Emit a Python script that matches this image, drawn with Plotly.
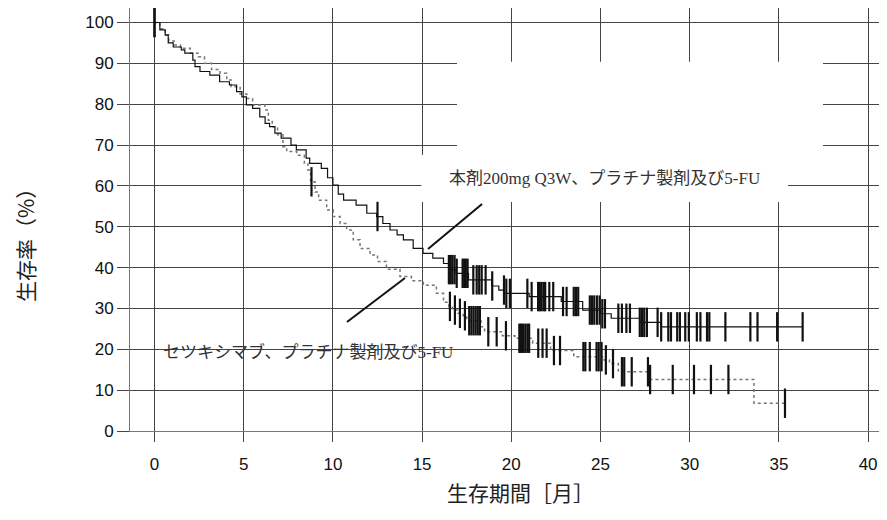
import numpy as np
import plotly.graph_objects as go

# ---------------- data ----------------
# 本剤200mg Q3W + platinum + 5-FU (solid)
pem_times = [0, 0.3, 0.6, 0.77, 1.05, 1.5, 1.7, 2.15, 2.27, 2.55, 3.1, 3.65, 4.2, 4.6, 4.9,
             5.15, 5.5, 5.9, 6.2, 6.45, 6.75, 7.1, 7.65, 7.95, 8.5, 8.7, 9.35, 9.7, 10.0,
             10.3, 10.6, 11.3, 11.9, 12.45, 12.8, 13.2, 13.6, 13.95, 14.5, 15.05, 15.6,
             16.2, 16.5, 16.9, 17.6, 18.9, 19.3, 19.6, 21.0, 22.8, 24.0, 25.0, 25.6, 27.2, 28.4]
pem_surv = [100, 98.2, 96.9, 95.0, 94.0, 93.3, 92.5, 90.8, 89.2, 88.0, 87.1, 85.5, 84.7, 83.1, 81.8,
            79.8, 79.0, 76.9, 75.3, 74.5, 72.9, 71.7, 70.0, 68.8, 66.8, 65.5, 64.3, 62.0, 60.2,
            58.0, 56.5, 55.3, 53.3, 52.5, 50.8, 49.2, 48.0, 46.8, 44.7, 43.5, 42.3,
            41.0, 39.5, 38.6, 37.0, 35.5, 34.5, 33.7, 32.9, 31.7, 29.6, 28.7, 27.6, 26.6, 25.5]
pem_end = 36.33
pem_censor = [0, 12.5, 16.5, 16.6, 16.7, 16.82, 16.94, 17.27, 17.36, 17.45, 17.55,
              17.87, 18.06, 18.2, 18.34, 18.56, 18.93, 19.59, 19.72, 19.92, 20.9, 21.14,
              21.5, 21.6, 21.7, 21.82, 21.9, 22.13, 22.35, 22.9, 23.1, 23.5, 23.62, 23.75,
              24.4, 24.52, 24.65, 24.8, 24.95, 25.1, 25.25, 26.0, 26.2, 26.45, 26.65, 27.2, 27.32,
              27.45, 27.6, 28.2, 28.4, 28.8, 28.95, 29.3, 29.45, 29.75, 29.95, 30.4,
              30.6, 30.97, 31.1, 32.0, 33.4, 33.8, 34.9, 36.33]

# セツキシマブ + platinum + 5-FU (dotted)
cet_times = [0, 0.3, 0.6, 0.8, 1.1, 1.45, 2.0, 2.45, 2.8, 3.2, 3.67, 4.05, 4.3, 4.8, 5.17, 5.5,
             6.19, 6.38, 6.6, 6.9, 7.2, 7.41, 7.97, 8.4, 8.6, 8.75, 9.0, 9.2, 9.65, 10.02, 10.4,
             10.77, 11.14, 11.52, 12.08, 12.5, 13.0, 13.76, 14.4, 15.07, 15.8, 16.2, 16.5, 16.7,
             17.0, 17.3, 17.5, 18.3, 18.5, 19.5, 20.2, 21.2, 22.2, 23.5, 25.2, 25.5, 26.0,
             27.75, 33.6]
cet_surv = [100, 98.5, 97.0, 95.5, 94.5, 93.7, 92.5, 91.6, 90.0, 88.5, 87.6, 85.9, 84.3, 82.5, 81.4, 79.8,
            78.6, 76.1, 74.5, 72.5, 69.6, 68.4, 67.5, 65.5, 63.9, 61.0, 58.5, 56.5, 54.1, 52.5, 50.8,
            49.2, 46.8, 44.7, 43.1, 41.5, 39.6, 37.8, 36.8, 35.7, 33.7, 31.5, 30.5, 29.6,
            28.8, 28.2, 27.0, 25.5, 24.3, 23.3, 22.7, 21.5, 19.7, 18.2, 17.4, 16.5, 14.5,
            12.6, 6.8]
cet_end = 35.34
cet_censor = [0, 8.8, 16.56, 16.84, 17.12, 17.4, 17.64, 17.76, 17.88, 18.0, 18.12, 18.24,
              18.71, 19.18, 19.7, 20.45, 20.55, 20.65, 20.78, 20.9, 21.0, 21.51,
              21.75, 21.98, 22.39, 22.73, 24.04, 24.15, 24.4, 24.78, 24.9, 25.06, 25.3, 25.7,
              26.2, 26.33, 26.75, 27.66, 27.78, 29.05, 30.24, 31.19, 32.17, 35.34]

x_ticks = [0, 5, 10, 15, 20, 25, 30, 35, 40]
y_ticks = [0, 10, 20, 30, 40, 50, 60, 70, 80, 90, 100]

label_pem = "本剤200mg Q3W、プラチナ製剤及び5-FU"
label_cet = "セツキシマブ、プラチナ製剤及び5-FU"
x_title = "生存期間［月］"
y_title = "生存率（%）"


def surv_at(times, survs, t):
    idx = np.searchsorted(np.array(times), np.array(t), side="right") - 1
    return [survs[i] for i in idx]


fig = go.Figure()

# curves
fig.add_trace(go.Scatter(x=cet_times + [cet_end], y=cet_surv + [cet_surv[-1]],
                         mode="lines", line=dict(shape="hv", color="#777777", width=1.5, dash="dot"),
                         hoverinfo="skip"))
fig.add_trace(go.Scatter(x=pem_times + [pem_end], y=pem_surv + [pem_surv[-1]],
                         mode="lines", line=dict(shape="hv", color="#111111", width=1.2),
                         hoverinfo="skip"))
# censor marks
fig.add_trace(go.Scatter(x=cet_censor, y=surv_at(cet_times, cet_surv, cet_censor), mode="markers",
                         marker=dict(symbol="line-ns", size=21, line=dict(color="#111111", width=2.2)),
                         hoverinfo="skip"))
fig.add_trace(go.Scatter(x=pem_censor, y=surv_at(pem_times, pem_surv, pem_censor), mode="markers",
                         marker=dict(symbol="line-ns", size=21, line=dict(color="#111111", width=2.2)),
                         hoverinfo="skip"))

# white label backgrounds (hide grid behind label)
fig.add_shape(type="rect", xref="x", yref="y", x0=16.96, x1=37.47, y0=66.0, y1=90.4,
              fillcolor="white", line=dict(width=0), layer="above")
fig.add_shape(type="rect", xref="x", yref="y", x0=14.955, x1=35.51, y0=56.06, y1=67.56,
              fillcolor="white", line=dict(width=0), layer="above")
# leader lines
fig.add_shape(type="line", xref="x", yref="y", x0=15.33, y0=44.55, x1=18.36, y1=55.57,
              line=dict(color="#111111", width=2), layer="above")
fig.add_shape(type="line", xref="x", yref="y", x0=10.79, y0=26.68, x1=14.04, y1=37.45,
              line=dict(color="#111111", width=2), layer="above")

lab_font = dict(family="Liberation Serif, Noto Sans CJK JP", size=17, color="#333333")
fig.add_annotation(x=25.25, y=61.9, xref="x", yref="y", text=label_pem, showarrow=False,
                   font=lab_font, xanchor="center", yanchor="middle")
fig.add_annotation(x=8.6, y=19.3, xref="x", yref="y", text=label_cet, showarrow=False,
                   font=lab_font, xanchor="center", yanchor="middle")

title_font = dict(family="Noto Sans CJK JP", size=21, color="#222222")
fig.add_annotation(x=0.5207, y=-0.144, xref="paper", yref="paper", text=x_title, showarrow=False,
                   font=title_font, xanchor="center", yanchor="middle")
fig.add_annotation(x=-0.1402, y=0.4515, xref="paper", yref="paper", text=y_title, showarrow=False,
                   font=title_font, xanchor="center", yanchor="middle", textangle=-90)

tick_font = dict(family="Liberation Sans, Arial", size=17, color="#111111")
fig.update_xaxes(range=[-1.373, 40.61], tickvals=x_ticks, showgrid=True, gridcolor="#444444",
                 gridwidth=1, ticks="outside", ticklen=10, tickcolor="#444444", showline=True,
                 linecolor="#777777", mirror=True, zeroline=False, tickfont=tick_font,
                 ticklabelstandoff=8, automargin=False)
fig.update_yaxes(range=[0, 103.55], tickvals=y_ticks, showgrid=True, gridcolor="#444444",
                 gridwidth=1, ticks="outside", ticklen=12, tickcolor="#444444", showline=True,
                 linecolor="#777777", zeroline=False, tickfont=tick_font, automargin=False)

# page body has an 8px margin: offset the figure so the plot lands where it should
fig.update_layout(width=871, height=504, margin=dict(l=122, r=0, t=0, b=81),
                  paper_bgcolor="white", plot_bgcolor="white", showlegend=False)

fig.write_html("out.html")
